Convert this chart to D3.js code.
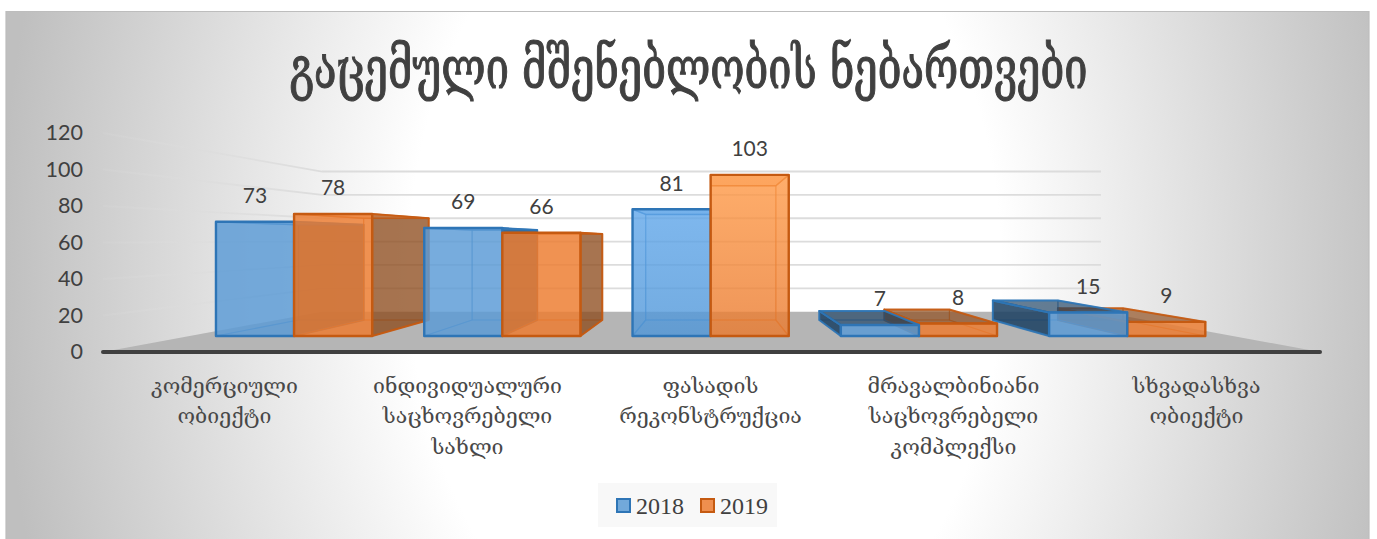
<!DOCTYPE html>
<html><head><meta charset="utf-8">
<script src="https://cdnjs.cloudflare.com/ajax/libs/d3/7.8.5/d3.min.js"></script>
<style>html,body{margin:0;padding:0;background:#fff}svg{display:block}</style>
</head><body><svg id="c" width="1377" height="539"></svg>
<script>
const titleText = "გაცემული მშენებლობის ნებართვები";
const categories = ["კომერციული ობიექტი","ინდივიდუალური საცხოვრებელი სახლი","ფასადის რეკონსტრუქცია","მრავალბინიანი საცხოვრებელი კომპლექსი","სხვადასხვა ობიექტი"];
const categoryLines = [["კომერციული","ობიექტი"],["ინდივიდუალური","საცხოვრებელი","სახლი"],["ფასადის","რეკონსტრუქცია"],["მრავალბინიანი","საცხოვრებელი","კომპლექსი"],["სხვადასხვა","ობიექტი"]];
const seriesNames = ["2018","2019"];
const values2018 = [73,69,81,7,15];
const values2019 = [78,66,103,8,9];
const yTicks = [0,20,40,60,80,100,120];
const seriesFill = ["#5b9bd5","#ed7d31"];
const seriesEdge = ["#2e75b6","#c55a11"];
const seriesDark = ["#1c3f60","#8a4a1c"];
const seriesLight = ["#5fa6ea","#ff9a47"];
const seriesMid = ["#4f96d8","#ea7a2e"];

const svg = d3.select("#c");
const defs = svg.append("defs");
const bg = defs.append("radialGradient").attr("id","bg").attr("gradientUnits","userSpaceOnUse")
  .attr("cx",0).attr("cy",0).attr("r",1)
  .attr("gradientTransform","translate(705,270) scale(705,1000)");
bg.append("stop").attr("offset",.42).attr("stop-color","#fff");
bg.append("stop").attr("offset",1).attr("stop-color","#bfbfbf");
const gf = defs.append("linearGradient").attr("id","gl").attr("gradientUnits","userSpaceOnUse")
  .attr("x1",103).attr("x2",322).attr("y1",0).attr("y2",0);
gf.append("stop").attr("offset",0).attr("stop-color","#dcdcdc").attr("stop-opacity",.15);
gf.append("stop").attr("offset",1).attr("stop-color","#dcdcdc");
[0,1].forEach(si=>{
  const g=defs.append("linearGradient").attr("id","hi"+si).attr("x1",0).attr("x2",0).attr("y1",0).attr("y2",1);
  g.append("stop").attr("offset",0).attr("stop-color",seriesLight[si]);
  g.append("stop").attr("offset",1).attr("stop-color",seriesMid[si]);
});

svg.append("rect").attr("x",6).attr("y",11).attr("width",1363).attr("height",528).attr("fill","url(#bg)");
svg.append("path").attr("d","M6,539V11.5H1369V539").attr("fill","none").attr("stroke","#bdbdbd").attr("stroke-width",1.2);

// scales + perspective
const x = d3.scaleBand().domain(categories).range([103,1318]);
const y = d3.scaleLinear().domain([0,120]).range([352,133]);
const vx = 711.5, vy = 240, xL = 103, xR = 1320;
const sBack = .64, sBarFront = 6/7, sBarBack = 5/7;
const P = (wx,v,s)=>[vx+s*(wx-vx), vy+s*(y(v)-vy)];
const poly = pts=>"M"+pts.map(p=>p.join(",")).join("L")+"Z";

// floor
svg.append("path").attr("d",poly([P(xL,0,1),P(xR,0,1),P(xR,0,sBack),P(xL,0,sBack)])).attr("fill","#b5b5b5");

// gridlines
yTicks.slice(1).forEach(t=>{
  const a=P(xL,t,1), b=P(xL,t,sBack), c=P(xR,t,sBack);
  svg.append("line").attr("x1",a[0]).attr("y1",a[1]).attr("x2",b[0]).attr("y2",b[1]+.01)
    .attr("stroke","url(#gl)").attr("stroke-width",1.8);
  svg.append("line").attr("x1",b[0]).attr("x2",c[0]).attr("y1",b[1]).attr("y2",c[1])
    .attr("stroke","#dcdcdc").attr("stroke-width",1.8);
});

// bars
const gap = 0.125*x.step(), bw = (x.step()-2*gap)/2;
function drawBar(i,si,val){
  const g = svg.append("g");
  const cat = categories[i];
  const x0 = x(cat)+gap+si*bw, x1 = x0+bw;
  const f = seriesFill[si], e = seriesEdge[si], dk = seriesDark[si];
  const face = (pts,fill,op,sw,sop)=>g.append("path").attr("d",poly(pts)).attr("fill",fill).attr("fill-opacity",op)
    .attr("stroke",e).attr("stroke-width",sw).attr("stroke-opacity",sop).attr("stroke-linejoin","round");
  const a=s=>P(x0,0,s), b=s=>P(x1,0,s), c=s=>P(x1,val,s), d=s=>P(x0,val,s);
  const F=sBarFront,B=sBarBack;
  face([a(B),b(B),c(B),d(B)],f,.10,1.2,.45);
  face([a(F),b(F),b(B),a(B)],f,.12,1.2,.45);
  const leftOut = x0>vx+1, rightOut = x1<vx-1;
  if(!leftOut) face([a(F),a(B),d(B),d(F)],f,.08,1.2,.45);
  if(!rightOut) face([b(F),b(B),c(B),c(F)],f,.08,1.2,.45);
  if(leftOut) face([a(F),a(B),d(B),d(F)],dk,.85,2,.9);
  if(rightOut) face([b(F),b(B),c(B),c(F)],dk,.75,2,.95);
  const above = y(val)<vy;
  if(above) face([d(F),c(F),c(B),d(B)],f,.35,1.5,.8);
  else face([d(F),c(F),c(B),d(B)],dk,.65,2,.9);
  if(i===2) face([a(F),b(F),c(F),d(F)],"url(#hi"+si+")",.78,2.4,1);
  else face([a(F),b(F),c(F),d(F)],f,.82,2.4,1);
}
const allValues=[values2018,values2019];
categories.forEach((cat,i)=>{
  const order = i>2 ? [1,0] : [0,1];
  order.forEach(si=>drawBar(i,si,allValues[si][i]));
});

// axis line
svg.append("line").attr("x1",xL).attr("x2",xR).attr("y1",y(0)).attr("y2",y(0))
  .attr("stroke","#404040").attr("stroke-width",4).attr("stroke-linecap","round");

// y axis
const ax = svg.append("g").attr("transform","translate(89,0)").call(d3.axisLeft(y).tickValues(yTicks).tickSize(0).tickPadding(6));
ax.select(".domain").remove();
ax.selectAll("text").attr("font-family","Lato").attr("font-size",21.5).attr("fill","#404040");

// data labels
categories.forEach((cat,i)=>{
  [0,1].forEach(si=>{
    const val=allValues[si][i];
    const cx=x(cat)+gap+si*bw+bw/2;
    const p=P(cx,val,sBarFront);
    svg.append("text").attr("x",p[0]).attr("y",p[1]-26).attr("dy",".35em").attr("text-anchor","middle")
      .attr("font-family","Lato").attr("font-size",21).attr("fill","#404040").text(val);
  });
});

// category labels
const lineY=[386,416,447];
categories.forEach((cat,i)=>{
  categoryLines[i].forEach((ln,j)=>{
    svg.append("text").attr("x",x(cat)+x.bandwidth()/2).attr("y",lineY[j]).attr("dy",".35em").attr("text-anchor","middle")
      .attr("font-family","'DejaVu Serif','DejaVu Sans'").attr("font-size",21.3).attr("fill","#484848").text(ln);
  });
});

// title: natural width measured, then squeezed horizontally to the reference's width
const tEl = svg.append("text").attr("text-anchor","middle")
  .attr("font-family","'DejaVu Serif','DejaVu Sans'").attr("font-size",58).attr("fill","#404040")
  .attr("stroke","#404040").attr("stroke-width",1.2).text(titleText);
const tLen = tEl.node().getComputedTextLength();
tEl.attr("transform",`translate(688.5,88) scale(${798/tLen},1)`);

// legend
svg.append("rect").attr("x",598).attr("y",483).attr("width",179).attr("height",44).attr("fill","#f8f8f8");
[[616,636],[700,720]].forEach((pos,si)=>{
  svg.append("rect").attr("x",pos[0]+1).attr("y",499).attr("width",13).attr("height",13)
    .attr("fill",seriesFill[si]).attr("fill-opacity",.85).attr("stroke",seriesEdge[si]).attr("stroke-width",2);
  svg.append("text").attr("x",pos[1]).attr("y",514).attr("font-family","'Liberation Serif'").attr("font-size",24)
    .attr("fill","#404040").text(seriesNames[si]);
});
</script></body></html>
